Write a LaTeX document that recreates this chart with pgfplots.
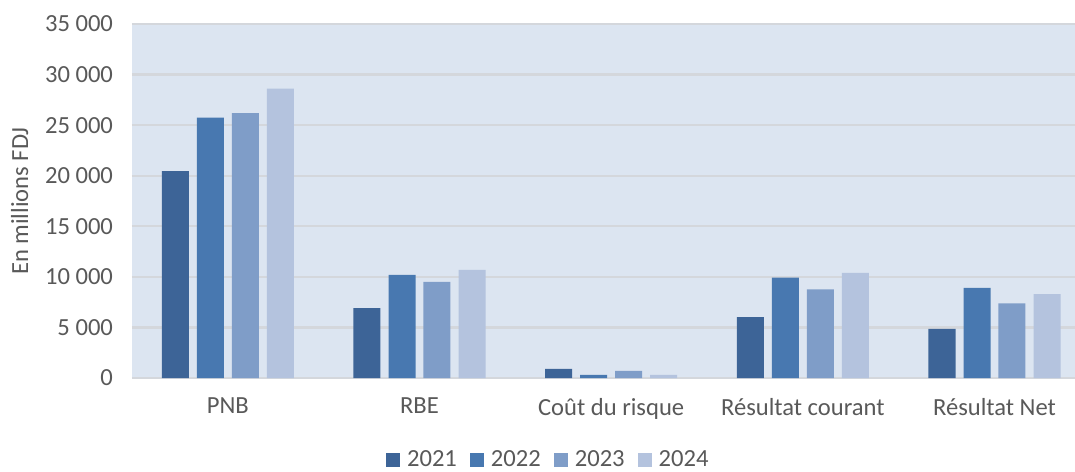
\documentclass[border=0pt]{standalone}
\usepackage{pgfplots}
\pgfplotsset{compat=1.18}
\usepackage{fontspec}
\setmainfont{Carlito}
\definecolor{bgc}{HTML}{DCE5F1}
\definecolor{gridc}{HTML}{D4D7DC}
\definecolor{txt}{HTML}{595959}
\definecolor{ca}{HTML}{3D6497}
\definecolor{cb}{HTML}{4878B0}
\definecolor{cc}{HTML}{7F9DC8}
\definecolor{cd}{HTML}{B4C3DE}
\begin{document}
\begin{tikzpicture}
\begin{axis}[
  name=ax,
  scale only axis,
  width=471.5pt, height=177pt,
  xmin=-0.5, xmax=4.42,
  ymin=0, ymax=35000,
  ytick={0,5000,...,35000},
  scaled y ticks=false,
  xtick={0,1,2,3,4},
  xticklabels={PNB,RBE,Coût du risque,Résultat courant,Résultat Net},
  axis background/.style={fill=bgc},
  axis x line*=bottom, axis y line*=left,
  x axis line style={draw=gridc, line width=1.2pt, -},
  y axis line style={draw=none},
  ymajorgrids, grid style={draw=gridc, line width=1.2pt},
  major tick length=0pt,
  /pgf/number format/1000 sep={\ },
  /pgf/number format/assume math mode=true,
  ticklabel style={font=\fontsize{12.3}{14}\selectfont, text=txt},
  xticklabel style={yshift=-6.5pt},
  yticklabel style={xshift=-6pt},
  ylabel={En millions FDJ},
  every axis y label/.style={at={(axis description cs:-0.119,0.5)}, rotate=90, anchor=center,
     font=\fontsize{12.3}{14}\selectfont, text=txt},
  ybar, bar width=0.141,
  legend style={at={(0.442,-0.232)}, anchor=center, draw=none, fill=none, inner sep=1pt,
    legend columns=4, font=\fontsize{12.3}{14}\selectfont, text=txt,
    nodes={inner sep=1.5pt},
    /tikz/every even column/.append style={column sep=5pt},
    /tikz/every odd column/.append style={column sep=2pt}},
  legend image code/.code={\fill[#1] (0pt,-3.5pt) rectangle (7pt,3.5pt);},
  clip=false,
]
\addplot[fill=ca, draw=none, bar shift=-0.274] coordinates {(0,20450) (1,6900) (2,900) (3,6030) (4,4850)};
\addplot[fill=cb, draw=none, bar shift=-0.091] coordinates {(0,25750) (1,10200) (2,300) (3,9920) (4,8900)};
\addplot[fill=cc, draw=none, bar shift=0.091] coordinates {(0,26200) (1,9500) (2,700) (3,8770) (4,7390)};
\addplot[fill=cd, draw=none, bar shift=0.274] coordinates {(0,28600) (1,10700) (2,300) (3,10390) (4,8300)};
\legend{2021,2022,2023,2024}
\end{axis}
\pgfresetboundingbox
\path[use as bounding box] ([xshift=-66pt,yshift=-46.5pt]ax.south west) rectangle ([xshift=471.5pt,yshift=189pt]ax.south west);
\end{tikzpicture}
\end{document}
